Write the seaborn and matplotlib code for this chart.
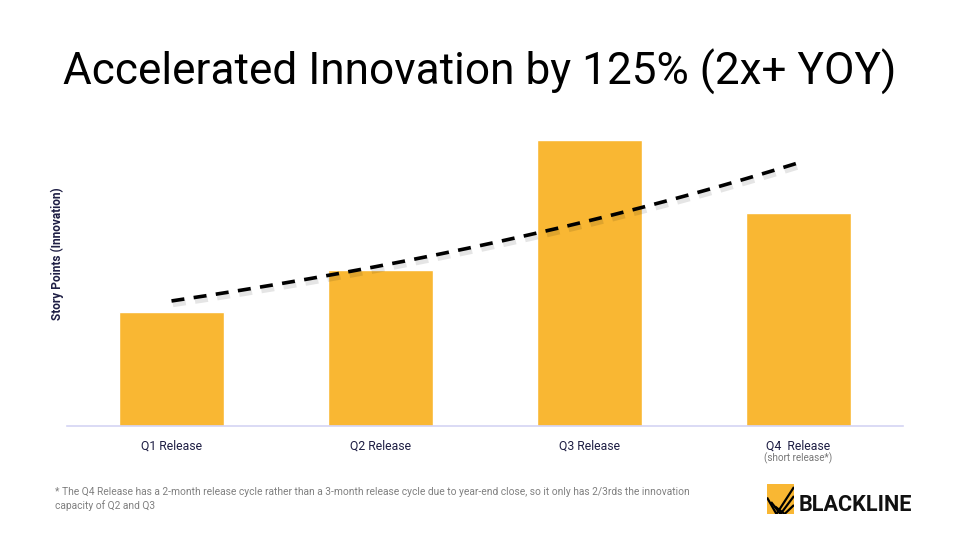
import numpy as np
import pandas as pd
import matplotlib.pyplot as plt
import matplotlib.patheffects as pe
from matplotlib.patches import Rectangle
import seaborn as sns

sns.set_style("white")
plt.rcParams["font.family"] = ["Roboto", "DejaVu Sans"]

# data (story points)
releases = ["Q1 Release", "Q2 Release", "Q3 Release", "Q4  Release"]
story_points = [114, 156, 286, 213]

BAR = "#F9B733"
NAVY = "#1E1E44"

df = pd.DataFrame({"release": releases, "points": story_points})

fig = plt.figure(figsize=(9.6, 5.4), dpi=100)
ax = fig.add_axes([67 / 960, 114 / 540, 836 / 960, 306 / 540])

sns.barplot(data=df, x="release", y="points", color=BAR, width=0.5,
            saturation=1, ax=ax)

# exponential trendline fitted on the bars
xi = np.arange(len(story_points))
k, b = np.polyfit(xi, np.log(story_points), 1)
xs = np.linspace(0, len(story_points) - 1, 200)
ax.plot(xs, np.exp(b + k * xs), color="black", lw=2.6, linestyle=(0, (3.6, 2.6)),
        path_effects=[pe.SimpleLineShadow(offset=(1, -2.5), alpha=0.1, linewidth=4),
                      pe.Normal()])

ax.set_xlim(-0.5, 3.5)
ax.set_ylim(0, 306)
ax.set_yticks([])
ax.set_xlabel("")
ax.set_ylabel("")
for s in ["top", "right", "left"]:
    ax.spines[s].set_visible(False)
ax.spines["bottom"].set_color("#D4D4F4")
ax.spines["bottom"].set_linewidth(1.2)
ax.tick_params(axis="x", length=0, pad=10, labelsize=8.8, labelcolor=NAVY)

fig.text(57 / 960, 1 - 254 / 540, "Story Points (Innovation)", rotation=90,
         ha="center", va="center", fontsize=8.6, fontweight="bold", color=NAVY)

ax.text(3, -0.105, "(short release*)", transform=ax.get_xaxis_transform(),
        ha="center", va="center", fontsize=7.1, color="#777777")

fig.text(0.5, 1 - 72 / 540, "Accelerated Innovation by 125% (2x+ YOY)", ha="center",
         va="center", fontsize=31.8, color="black")

fig.text(55 / 960, 1 - 487 / 540,
         "* The Q4 Release has a 2-month release cycle rather than a 3-month release cycle "
         "due to year-end close, so it only has 2/3rds the innovation\ncapacity of Q2 and Q3",
         ha="left", va="top", fontsize=7.4, color="#808080", linespacing=1.4)

# logo
lax = fig.add_axes([767 / 960, 1 - 514 / 540, 27 / 960, 30 / 540])
lax.set_xlim(0, 1)
lax.set_ylim(0, 1)
lax.axis("off")
lax.add_patch(Rectangle((0, 0), 1, 1, color=BAR))
for off in [0.0, 0.3, 0.6]:
    lax.plot([0.0 + off * 0.5, 0.35 + off * 0.5, 1.0], [0.55 - off * 0.5, 0.0, 0.9 - off],
             color="black", lw=1.6, solid_capstyle="butt")
fig.text(799 / 960, 1 - 505 / 540, "BLACKLINE", ha="left", va="center",
         fontsize=15.6, fontweight="bold", color="#111111")

fig.savefig("out.png", dpi=100)
